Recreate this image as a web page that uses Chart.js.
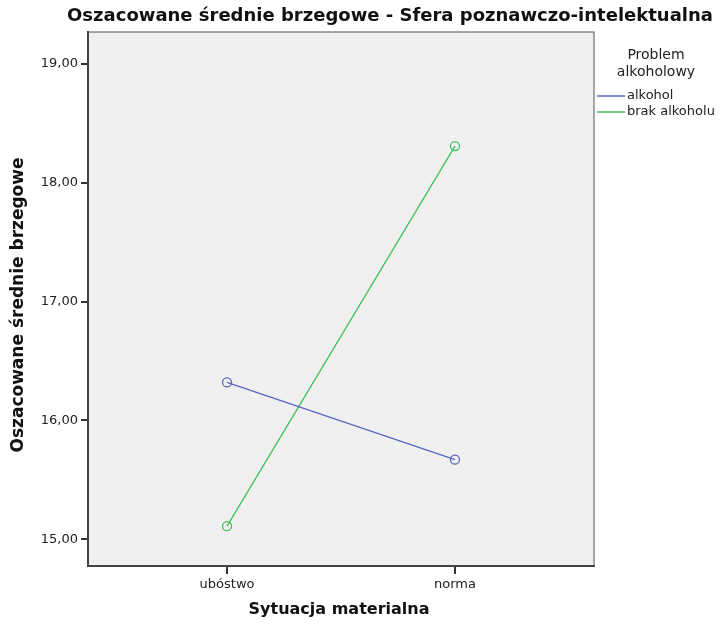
<!DOCTYPE html>
<html>
<head>
<meta charset="utf-8">
<script src="https://cdn.jsdelivr.net/npm/chart.js@4"></script>
<style>
  html, body { margin: 0; padding: 0; background: #fff; }
  #wrap { width: 720px; height: 622px; }
</style>
</head>
<body>
<div id="wrap"><canvas id="c"></canvas></div>
<script>
const categories = ['ubóstwo', 'norma'];
const alkohol = [16.32, 15.67];
const brakAlkoholu = [15.11, 18.31];
const yTicks = [15, 16, 17, 18, 19];
const seriesNames = ['alkohol', 'brak alkoholu'];
const seriesColors = ['#5468bd', '#3fc25c'];

const FONT = '"DejaVu Sans", sans-serif';

// tytuł, tytuły osi i legenda rysowane ręcznie
const extras = {
  id: 'extras',
  afterDraw(chart) {
    const ctx = chart.ctx;
    const a = chart.chartArea;
    ctx.save();
    ctx.strokeStyle = '#555';
    ctx.lineWidth = 1;
    ctx.strokeRect(a.left, a.top, a.right - a.left, a.bottom - a.top);

    ctx.fillStyle = '#111';
    ctx.textAlign = 'center';
    ctx.textBaseline = 'middle';
    ctx.font = 'bold 18px ' + FONT;
    ctx.fillText('Oszacowane średnie brzegowe - Sfera poznawczo-intelektualna', 390, 16);
    ctx.font = 'bold 16px ' + FONT;
    ctx.fillText('Sytuacja materialna', 339, 610);
    ctx.font = 'bold 17px ' + FONT;
    ctx.translate(19, 305);
    ctx.rotate(-Math.PI / 2);
    ctx.fillText('Oszacowane średnie brzegowe', 0, 0);
    ctx.restore();

    ctx.save();
    ctx.fillStyle = '#222';
    ctx.textAlign = 'center';
    ctx.textBaseline = 'middle';
    ctx.font = '14px ' + FONT;
    ctx.fillText('Problem', 656, 55);
    ctx.fillText('alkoholowy', 656, 72);
    ctx.font = '13px ' + FONT;
    ctx.textAlign = 'left';
    seriesNames.forEach((name, i) => {
      const y = 96 + i * 16;
      ctx.strokeStyle = seriesColors[i];
      ctx.lineWidth = 1.5;
      ctx.beginPath();
      ctx.moveTo(597, y);
      ctx.lineTo(625, y);
      ctx.stroke();
      ctx.fillText(name, 627, y);
    });
    ctx.restore();
  }
};

new Chart(document.getElementById('c'), {
  type: 'line',
  data: {
    datasets: [
      { label: seriesNames[0], data: alkohol.map((v, i) => ({ x: i, y: v })) },
      { label: seriesNames[1], data: brakAlkoholu.map((v, i) => ({ x: i, y: v })) }
    ].map((d, i) => Object.assign(d, {
      borderColor: seriesColors[i],
      backgroundColor: 'rgba(0,0,0,0)',
      borderWidth: 1.3,
      pointRadius: 4.5,
      pointBorderWidth: 1.3,
      pointBorderColor: seriesColors[i],
      pointBackgroundColor: 'rgba(0,0,0,0)',
      tension: 0
    }))
  },
  options: {
    responsive: true,
    maintainAspectRatio: false,
    animation: false,
    layout: { padding: { top: 32, right: 126, left: 0, bottom: 0 } },
    plugins: {
      legend: { display: false },
      tooltip: { enabled: false }
    },
    scales: {
      x: {
        type: 'linear',
        min: -0.61,
        max: 1.61,
        afterBuildTicks: s => { s.ticks = categories.map((c, i) => ({ value: i })); },
        afterFit: s => { s.height = 56; },
        ticks: {
          callback: v => categories[v],
          color: '#222',
          font: { family: FONT, size: 13 },
          padding: 3
        },
        grid: { drawOnChartArea: false, drawTicks: true, tickLength: 8, color: '#333', lineWidth: 2 },
        border: { color: '#333', width: 2 }
      },
      y: {
        min: 14.775,
        max: 19.27,
        afterBuildTicks: s => { s.ticks = yTicks.map(v => ({ value: v })); },
        afterFit: s => { s.width = 88; },
        ticks: {
          callback: v => v.toFixed(2).replace('.', ','),
          color: '#222',
          font: { family: FONT, size: 13 },
          padding: 3
        },
        grid: { drawOnChartArea: false, drawTicks: true, tickLength: 7, color: '#333', lineWidth: 2 },
        border: { color: '#333', width: 2 }
      }
    }
  },
  plugins: [extras, {
    id: 'bg',
    beforeDraw(chart) {
      const a = chart.chartArea;
      chart.ctx.save();
      chart.ctx.fillStyle = '#f0f0f0';
      chart.ctx.fillRect(a.left, a.top, a.right - a.left, a.bottom - a.top);
      chart.ctx.restore();
    }
  }]
});
</script>
</body>
</html>
